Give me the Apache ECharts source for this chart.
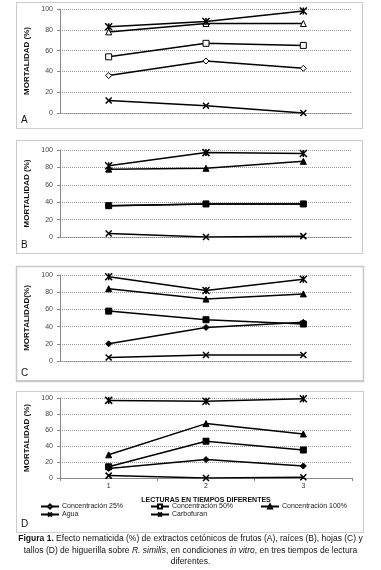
<!DOCTYPE html>
<html>
<head>
<meta charset="utf-8">
<script src="https://cdn.jsdelivr.net/npm/echarts@6/dist/echarts.min.js"></script>
<style>html,body{margin:0;padding:0;background:#fff}#c{width:381px;height:570px}</style>
</head>
<body>
<div id="c"></div>
<script>
var categories = ['1', '2', '3'];
var seriesNames = ['Concentración 25%', 'Concentración 50%', 'Concentración 100%', 'Agua', 'Carbofuran'];
var yTicks = [0, 20, 40, 60, 80, 100];

var A_c25 = [36, 50, 43];
var A_c50 = [54, 67, 65];
var A_c100 = [78, 86, 86];
var A_agua = [12, 7, 0];
var A_carbo = [83, 88, 98];

var B_c25 = [36, 38, 38];
var B_c50 = [36, 38, 38];
var B_c100 = [78, 79, 87];
var B_agua = [4, 0, 1];
var B_carbo = [82, 97, 96];

var C_c25 = [20, 39, 45];
var C_c50 = [58, 48, 43];
var C_c100 = [84, 72, 78];
var C_agua = [4, 7, 7];
var C_carbo = [98, 82, 95];

var D_c25 = [12, 23, 15];
var D_c50 = [14, 46, 35];
var D_c100 = [29, 68, 55];
var D_agua = [3, 0, 1];
var D_carbo = [97, 96, 99];

var panels = [
  {letter: 'A', data: [A_c25, A_c50, A_c100, A_agua, A_carbo], yName: 'MORTALIDAD (%)'},
  {letter: 'B', data: [B_c25, B_c50, B_c100, B_agua, B_carbo], yName: 'MORTALIDAD (%)'},
  {letter: 'C', data: [C_c25, C_c50, C_c100, C_agua, C_carbo], yName: 'MORTALIDAD(%)'},
  {letter: 'D', data: [D_c25, D_c50, D_c100, D_agua, D_carbo], yName: 'MORTALIDAD (%)'}
];

// layout
var grids = [
  {left: 60, width: 292, top: 9, height: 104},
  {left: 60, width: 292, top: 150, height: 87},
  {left: 60, width: 292, top: 275, height: 86},
  {left: 60, width: 292, top: 398, height: 80}
];
var boxes = [
  {x: 16, y: 2, w: 346, h: 126, dotted: true},
  {x: 16, y: 140, w: 346, h: 113, dotted: true},
  {x: 16, y: 266, w: 347, h: 115, dotted: false},
  {x: 16, y: 391, w: 347, h: 141, dotted: true}
];

var xSym = 'path://M0,0L10,10M10,0L0,10';
var starSym = 'path://M0,0L10,10M10,0L0,10M5,0L5,10';
var symbols = ['diamond', 'rect', 'triangle', xSym, starSym];
var symSizes = [6, 6, 6, 6, 7];
var zOrder = [4, 3, 3, 3, 3];

var FONT = 'Liberation Sans, Arial, sans-serif';

var xAxes = [], yAxes = [], series = [];
panels.forEach(function (p, i) {
  var last = i === 3;
  xAxes.push({
    type: 'category', gridIndex: i, data: categories, boundaryGap: true,
    axisLine: {show: true, lineStyle: {color: '#888', width: 1, type: last ? 'solid' : 'dotted'}},
    axisTick: {show: last, alignWithLabel: false, length: 3, lineStyle: {color: '#888'}},
    axisLabel: {show: last, fontSize: 7, color: '#333', fontFamily: FONT, margin: 5},
    name: last ? 'LECTURAS EN TIEMPOS DIFERENTES' : '',
    nameLocation: 'middle', nameGap: 19,
    nameTextStyle: {fontSize: 7, fontWeight: 'bold', color: '#111', fontFamily: FONT}
  });
  yAxes.push({
    type: 'value', gridIndex: i, min: 0, max: 100, interval: 20,
    axisLine: {show: true, lineStyle: {color: '#888', width: 1}},
    axisTick: {show: true, length: 3, lineStyle: {color: '#888'}},
    axisLabel: {fontSize: 7, color: '#444', fontFamily: FONT, margin: 7,
      formatter: function (v) { return yTicks.indexOf(v) >= 0 ? String(v) : ''; }},
    splitLine: {show: true, lineStyle: {color: '#999', width: 1, type: 'dotted'}},
    name: p.yName, nameLocation: 'middle', nameGap: 22, nameRotate: 90,
    nameTextStyle: {fontSize: 8, fontWeight: 'bold', color: '#111', fontFamily: FONT}
  });
  p.data.forEach(function (vals, k) {
    var hollow = (i === 0 && k < 3);
    series.push({
      name: seriesNames[k], type: 'line', xAxisIndex: i, yAxisIndex: i,
      data: vals, symbol: symbols[k], symbolSize: symSizes[k], showSymbol: true,
      lineStyle: {color: '#000', width: 1.5},
      itemStyle: {color: (k >= 3) ? 'none' : (hollow ? '#fff' : '#000'), borderColor: '#000', borderWidth: (k >= 3) ? 1.5 : 1},
      emphasis: {disabled: true}, animation: false, z: zOrder[k]
    });
  });
});

var legendPos = [
  {left: 40, top: 503},
  {left: 150, top: 503},
  {left: 260, top: 503},
  {left: 40, top: 510},
  {left: 150, top: 510}
];
var legends = seriesNames.map(function (n, k) {
  return {
    data: [n], left: legendPos[k].left, top: legendPos[k].top,
    itemWidth: 18, itemHeight: 5, padding: 0, selectedMode: false,
    textStyle: {fontSize: 7, color: '#222', fontFamily: FONT, padding: [0, 0, 0, -2]}
  };
});

var graphics = [];
boxes.forEach(function (b, i) {
  graphics.push({
    type: 'rect', shape: {x: b.x + 0.5, y: b.y + 0.5, width: b.w, height: b.h},
    style: b.dotted ? {fill: 'none', stroke: '#999', lineWidth: 1, lineDash: [1, 1]}
                    : {fill: 'none', stroke: '#c8c8c8', lineWidth: 1.5},
    silent: true, z: 0
  });
  graphics.push({
    type: 'text', left: b.x + 5, top: b.y + b.h - 13,
    style: {text: panels[i].letter, font: '10px ' + FONT, fill: '#111'}, silent: true
  });
});
graphics.push({
  type: 'rect', shape: {x: 16, y: 380, width: 347, height: 2},
  style: {fill: '#c8c8c8'}, silent: true
});
graphics.push({
  type: 'text', x: 190.5, y: 533,
  style: {
    text: '{b|Figura 1.} Efecto nematicida (%) de extractos cetónicos de frutos (A), raíces (B), hojas (C) y\n' +
          'tallos (D) de higuerilla sobre {i|R. similis}, en condiciones {i|in vitro}, en tres tiempos de lectura\n' +
          'diferentes.',
    align: 'center', verticalAlign: 'top',
    font: '8.5px ' + FONT, fill: '#111', lineHeight: 11.5,
    rich: {
      b: {fontWeight: 'bold', fontSize: 8.5, fontFamily: FONT, fill: '#111'},
      i: {fontStyle: 'italic', fontSize: 8.5, fontFamily: FONT, fill: '#111'}
    }
  }, silent: true
});

var chart = echarts.init(document.getElementById('c'), null, {renderer: 'canvas'});
chart.setOption({
  animation: false,
  backgroundColor: '#fff',
  grid: grids,
  xAxis: xAxes,
  yAxis: yAxes,
  series: series,
  legend: legends,
  graphic: graphics
});
</script>
</body>
</html>
